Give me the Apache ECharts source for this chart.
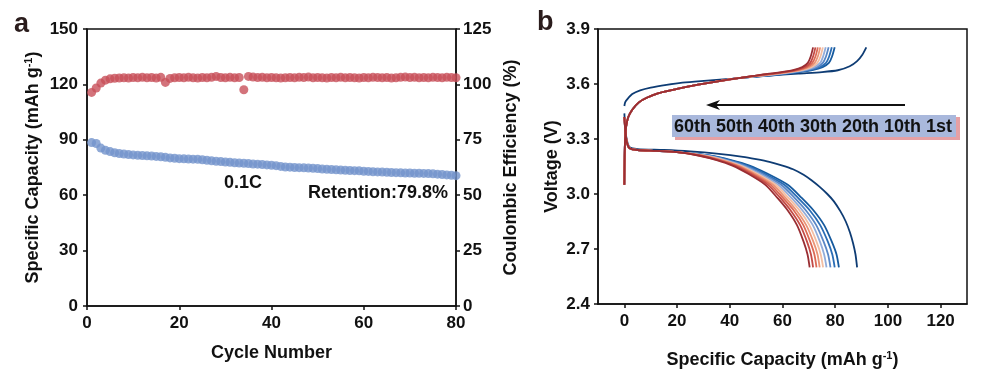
<!DOCTYPE html>
<html><head><meta charset="utf-8">
<script src="https://cdn.jsdelivr.net/npm/echarts@6/dist/echarts.min.js"></script>
<style>html,body{margin:0;padding:0;background:#fff}#c{width:986px;height:374px}</style>
</head><body><div id="c"></div>
<script>
// ---------- Panel a data ----------
const capacity = [
 88.5,88.0,85.5,84.3,83.6,83.0,82.6,82.3,82.0,81.8,
 81.6,81.5,81.3,81.2,81.0,80.8,80.5,80.2,80.0,79.8,
 79.7,79.6,79.5,79.4,79.2,78.9,78.6,78.4,78.2,78.0,
 77.8,77.6,77.4,77.3,77.1,76.9,76.8,76.6,76.4,76.2,
 76.0,75.6,75.3,75.2,75.0,74.9,74.8,74.7,74.6,74.4,
 74.2,74.0,73.9,73.8,73.6,73.5,73.4,73.3,73.2,73.0,
 72.9,72.7,72.6,72.5,72.4,72.3,72.2,72.1,72.0,72.0,
 71.9,71.9,71.8,71.7,71.6,71.4,71.2,71.0,70.8,70.6];
const efficiency = [
 96.4,98.4,100.6,101.9,102.5,102.8,102.9,103.0,102.9,103.1,
 103.0,103.2,103.0,103.1,102.9,103.2,100.9,102.7,103.0,103.1,
 103.0,103.2,103.0,102.9,103.1,103.0,103.2,103.6,103.1,103.0,
 103.2,103.0,103.1,97.6,103.6,103.3,103.1,103.2,103.0,103.1,
 103.0,102.9,103.0,103.1,103.0,103.2,103.1,103.3,103.0,103.1,
 103.0,102.9,103.1,103.0,103.2,103.0,103.1,103.0,102.9,103.1,
 103.0,103.2,103.1,103.0,103.1,102.9,103.0,103.2,103.3,103.1,
 103.2,103.0,103.1,103.0,103.2,103.1,103.0,103.2,103.1,103.0];
const capTicks = [0,30,60,90,120,150];
const ceTicks = [0,25,50,75,100,125];
const cycleTicks = [0,20,40,60,80];

// ---------- Panel b data ----------
const voltTicks = [2.4,2.7,3.0,3.3,3.6,3.9];
const capXTicks = [0,20,40,60,80,100,120];
const legendText = '60th 50th 40th 30th 20th 10th 1st';
const curveColors = ['#0e3c74','#165a9e','#2a6db5','#5a87c6','#93acd9','#f3bea3','#eb9476','#dc6a55','#c44a45','#9a2e33'];

const charge01 = [[0,3.48],[0.3,3.5],[1,3.515],[3,3.545],[6,3.565],[10,3.58],[16,3.595],[22,3.607],[29,3.616],[41,3.629],[54,3.645],[66,3.657],[75,3.665],[81,3.675],[85.5,3.697],[88.3,3.725],[90.3,3.76],[91.8,3.8]];
const chargeStart = [[0,3.05],[0.1,3.2],[0.3,3.3],[0.7,3.37],[1.5,3.42],[3,3.46],[5.5,3.5],[8.5,3.525],[13,3.55],[20,3.573],[28,3.596],[36,3.616],[44,3.633]];
const chargeTail02 = [[56.8,3.649],[65.8,3.664],[71.3,3.676],[75.2,3.692],[77.6,3.715],[78.8,3.75],[79.8,3.8]];
const chargeTail03 = [[56.1,3.649],[64.8,3.664],[70.3,3.676],[74.2,3.692],[76.5,3.715],[77.7,3.75],[78.7,3.8]];
const chargeTail04 = [[55.2,3.649],[63.9,3.664],[69.3,3.676],[73.1,3.692],[75.3,3.715],[76.5,3.75],[77.5,3.8]];
const chargeTail05 = [[54.4,3.649],[63.0,3.664],[68.3,3.676],[72.0,3.692],[74.3,3.715],[75.4,3.75],[76.4,3.8]];
const chargeTail06 = [[53.6,3.649],[62.1,3.664],[67.3,3.676],[71.0,3.692],[73.2,3.715],[74.4,3.75],[75.3,3.8]];
const chargeTail07 = [[52.9,3.649],[61.2,3.664],[66.4,3.676],[70.0,3.692],[72.2,3.715],[73.4,3.75],[74.3,3.8]];
const chargeTail08 = [[52.3,3.649],[60.5,3.664],[65.6,3.676],[69.2,3.692],[71.3,3.715],[72.5,3.75],[73.4,3.8]];
const chargeTail09 = [[51.6,3.649],[59.7,3.664],[64.8,3.676],[68.4,3.692],[70.5,3.715],[71.6,3.75],[72.5,3.8]];
const chargeTail10 = [[51.0,3.649],[59.0,3.664],[64.0,3.676],[67.5,3.692],[69.6,3.715],[70.7,3.75],[71.6,3.8]];

const discharge01 = [[0,3.44],[0.4,3.35],[1,3.29],[2,3.255],[5,3.245],[15,3.24],[25,3.232],[35,3.22],[45,3.203],[50,3.19],[55,3.175],[60,3.155],[64,3.135],[68,3.105],[71,3.075],[74,3.04],[77,3.0],[79.5,2.96],[82,2.905],[84,2.85],[85.6,2.79],[86.8,2.73],[87.7,2.67],[88.3,2.6]];
const dischargeStart = [[0,3.42],[0.4,3.34],[1,3.28],[2,3.25],[5,3.24],[12,3.235],[20,3.228]];
const dischargeTail02 = [[32.4,3.21],[40.5,3.185],[47.5,3.155],[54.4,3.11],[62.0,3.05],[67.2,2.98],[71.8,2.91],[75.8,2.83],[78.7,2.74],[80.5,2.67],[81.4,2.6]];
const dischargeTail03 = [[31.8,3.21],[39.7,3.185],[46.5,3.155],[53.3,3.11],[60.7,3.05],[65.8,2.98],[70.4,2.91],[74.3,2.83],[77.2,2.74],[78.9,2.67],[79.8,2.6]];
const dischargeTail04 = [[31.1,3.21],[38.9,3.185],[45.6,3.155],[52.3,3.11],[59.5,3.05],[64.5,2.98],[68.9,2.91],[72.8,2.83],[75.6,2.74],[77.3,2.67],[78.2,2.6]];
const dischargeTail05 = [[30.5,3.21],[38.2,3.185],[44.7,3.155],[51.3,3.11],[58.4,3.05],[63.3,2.98],[67.6,2.91],[71.5,2.83],[74.2,2.74],[75.8,2.67],[76.7,2.6]];
const dischargeTail06 = [[30.0,3.21],[37.5,3.185],[44.0,3.155],[50.4,3.11],[57.4,3.05],[62.2,2.98],[66.5,2.91],[70.2,2.83],[72.9,2.74],[74.5,2.67],[75.4,2.6]];
const dischargeTail07 = [[29.5,3.21],[36.9,3.185],[43.2,3.155],[49.5,3.11],[56.4,3.05],[61.1,2.98],[65.3,2.91],[69.0,2.83],[71.7,2.74],[73.3,2.67],[74.1,2.6]];
const dischargeTail08 = [[29.0,3.21],[36.3,3.185],[42.5,3.155],[48.7,3.11],[55.5,3.05],[60.1,2.98],[64.3,2.91],[67.9,2.83],[70.5,2.74],[72.1,2.67],[72.9,2.6]];
const dischargeTail09 = [[28.5,3.21],[35.6,3.185],[41.8,3.155],[47.9,3.11],[54.5,3.05],[59.1,2.98],[63.1,2.91],[66.7,2.83],[69.3,2.74],[70.8,2.67],[71.6,2.6]];
const dischargeTail10 = [[28.0,3.21],[35.0,3.185],[41.0,3.155],[47.0,3.11],[53.5,3.05],[58.0,2.98],[62.0,2.91],[65.5,2.83],[68.0,2.74],[69.5,2.67],[70.3,2.6]];

const chargeCurves = [charge01].concat([chargeTail02,chargeTail03,chargeTail04,chargeTail05,chargeTail06,chargeTail07,chargeTail08,chargeTail09,chargeTail10].map(t => chargeStart.concat(t)));
const dischargeCurves = [discharge01].concat([dischargeTail02,dischargeTail03,dischargeTail04,dischargeTail05,dischargeTail06,dischargeTail07,dischargeTail08,dischargeTail09,dischargeTail10].map(t => dischargeStart.concat(t)));

// ---------- chart ----------
const FONT = '"Liberation Sans", Arial, sans-serif';
const lbl = {color:'#111', fontFamily:FONT, fontWeight:'bold', fontSize:17};
const nameStyle = {color:'#111', fontFamily:FONT, fontWeight:'bold', fontSize:18,
  rich:{a:{color:'#111', fontFamily:FONT, fontWeight:'bold', fontSize:18},
        s:{color:'#111', fontFamily:FONT, fontWeight:'bold', fontSize:11, padding:[0,0,9,0]}}};
const line = {onZero:false, lineStyle:{color:'#111', width:1.5}};
const tick = {length:4, lineStyle:{color:'#111', width:1.5}};

const series = [];
series.push({type:'scatter', xAxisIndex:0, yAxisIndex:0, symbolSize:9, itemStyle:{color:'#7393cc'},
  data: capacity.map((v,i)=>[i+1,v]), z:3});
series.push({type:'scatter', xAxisIndex:0, yAxisIndex:1, symbolSize:9, itemStyle:{color:'#c8505a'},
  data: efficiency.map((v,i)=>[i+1,v]), z:3});
for (let k=0;k<curveColors.length;k++){
  series.push({type:'line', xAxisIndex:1, yAxisIndex:2, showSymbol:false, smooth:0.25,
    lineStyle:{color:curveColors[k], width:1.8}, data:chargeCurves[k], z:2+k, silent:true});
  series.push({type:'line', xAxisIndex:1, yAxisIndex:2, showSymbol:false, smooth:0.25,
    lineStyle:{color:curveColors[k], width:1.8}, data:dischargeCurves[k], z:2+k, silent:true});
}

const chart = echarts.init(document.getElementById('c'), null, {renderer:'canvas'});
chart.setOption({
  animation:false,
  backgroundColor:'#ffffff',
  grid:[
    {left:87, right:530, top:29, bottom:68, show:true, borderColor:'#111', borderWidth:1.5, backgroundColor:'transparent'},
    {left:598, right:19, top:29, bottom:68, show:true, borderColor:'#111', borderWidth:1.5, backgroundColor:'transparent'}
  ],
  xAxis:[
    {type:'value', gridIndex:0, min:cycleTicks[0], max:cycleTicks[cycleTicks.length-1], interval:20,
      name:'Cycle Number', nameLocation:'middle', nameGap:38, nameTextStyle:nameStyle,
      axisLine:line, axisTick:tick, splitLine:{show:false}, axisLabel:Object.assign({margin:9},lbl)},
    {type:'value', gridIndex:1, min:-10, max:130,
      name:'{a|Specific Capacity (mAh g}{s|-1}{a|)}', nameLocation:'middle', nameGap:46, nameTextStyle:nameStyle,
      axisLine:line, axisTick:Object.assign({customValues:capXTicks},tick), splitLine:{show:false},
      axisLabel:Object.assign({margin:9, customValues:capXTicks},lbl)}
  ],
  yAxis:[
    {type:'value', gridIndex:0, position:'left', min:0, max:150, interval:30,
      name:'{a|Specific Capacity (mAh g}{s|-1}{a|)}', nameLocation:'middle', nameGap:44, nameTextStyle:nameStyle,
      axisLine:line, axisTick:tick, splitLine:{show:false}, axisLabel:Object.assign({margin:9},lbl)},
    {type:'value', gridIndex:0, position:'right', min:0, max:125, interval:25,
      name:'Coulombic Efficiency (%)', nameLocation:'middle', nameGap:46, nameTextStyle:nameStyle,
      axisLine:line, axisTick:tick, splitLine:{show:false}, axisLabel:Object.assign({margin:7},lbl)},
    {type:'value', gridIndex:1, position:'left', min:2.4, max:3.9, interval:0.3,
      name:'Voltage (V)', nameLocation:'middle', nameGap:37, nameTextStyle:nameStyle,
      axisLine:line, axisTick:tick, splitLine:{show:false},
      axisLabel:Object.assign({margin:8, formatter:v=>v.toFixed(1)},lbl)}
  ],
  graphic:[
    {type:'text', left:14, top:11, style:{text:'a', fill:'#2a1c1c', font:'bold 27px '+FONT}},
    {type:'text', left:537, top:9, style:{text:'b', fill:'#2a1c1c', font:'bold 27px '+FONT}},
    {type:'text', x:243, y:183, style:{text:'0.1C', fill:'#111', font:'bold 18px '+FONT, align:'center', verticalAlign:'middle'}},
    {type:'text', x:448, y:193, style:{text:'Retention:79.8%', fill:'#111', font:'bold 18px '+FONT, align:'right', verticalAlign:'middle'}},
    {type:'rect', shape:{x:675, y:117, width:285, height:23}, style:{fill:'#e6a0a4'}, z:10},
    {type:'rect', shape:{x:672, y:115, width:284, height:22}, style:{fill:'#a9b8dc'}, z:11},
    {type:'text', x:674, y:127, style:{text:legendText, fill:'#111', font:'bold 18px '+FONT, verticalAlign:'middle'}, z:12},
    {type:'line', shape:{x1:905, y1:105, x2:716, y2:105}, style:{stroke:'#111', lineWidth:1.8}, z:12},
    {type:'polygon', shape:{points:[[706,105],[720,100],[716,105],[720,110]]}, style:{fill:'#111'}, z:12}
  ],
  series: series
});
</script></body></html>
